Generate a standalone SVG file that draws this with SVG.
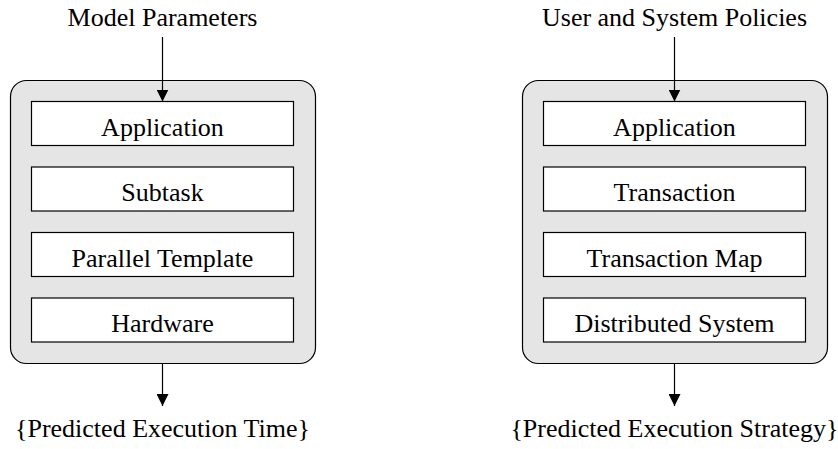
<svg xmlns="http://www.w3.org/2000/svg" width="838" height="449" viewBox="0 0 838 449">
  <style>
    .panel { fill: #e5e5e5; stroke: #000; stroke-width: 1.2; }
    .layer { fill: #fff; stroke: #000; stroke-width: 1.2; }
    .label { font-family: 'Liberation Serif', 'DejaVu Serif', serif; font-size: 26px; fill: #000; text-anchor: middle; }
    .edge { stroke: #000; stroke-width: 1.2; fill: none; marker-end: url(#arrow); }
  </style>
  <defs>
    <marker id="arrow" viewBox="0 0 12 12" refX="12" refY="6" markerWidth="12" markerHeight="12" markerUnits="userSpaceOnUse" orient="auto">
      <path d="M0,0 L12,6 L0,12 z" fill="#000"/>
    </marker>
  </defs>

  <rect width="838" height="449" fill="#fff"/>

  <!-- Left stack: performance prediction -->
  <g id="model-panel">
    <rect class="panel" x="10.5" y="80.5" width="305" height="283" rx="16"/>
  </g>
  <g id="left-application">
    <rect class="layer" x="31.5" y="101.5" width="262" height="44"/>
    <text class="label" x="162.5" y="135.5">Application</text>
  </g>
  <g id="left-subtask">
    <rect class="layer" x="31.5" y="167" width="262" height="44"/>
    <text class="label" x="162.5" y="201">Subtask</text>
  </g>
  <g id="left-parallel-template">
    <rect class="layer" x="31.5" y="232.5" width="262" height="44"/>
    <text class="label" x="162.5" y="266.5">Parallel Template</text>
  </g>
  <g id="left-hardware">
    <rect class="layer" x="31.5" y="298" width="262" height="44"/>
    <text class="label" x="162.5" y="332">Hardware</text>
  </g>
  <g id="left-input">
    <text class="label" x="162.5" y="26">Model Parameters</text>
  </g>
  <g id="left-output">
    <text class="label" x="162.5" y="437">{Predicted Execution Time}</text>
  </g>

  <!-- Right stack: execution strategy prediction -->
  <g id="policy-panel">
    <rect class="panel" x="522.5" y="80.5" width="305" height="283" rx="16"/>
  </g>
  <g id="right-application">
    <rect class="layer" x="543.5" y="101.5" width="262" height="44"/>
    <text class="label" x="674.5" y="135.5">Application</text>
  </g>
  <g id="right-transaction">
    <rect class="layer" x="543.5" y="167" width="262" height="44"/>
    <text class="label" x="674.5" y="201">Transaction</text>
  </g>
  <g id="right-transaction-map">
    <rect class="layer" x="543.5" y="232.5" width="262" height="44"/>
    <text class="label" x="674.5" y="266.5">Transaction Map</text>
  </g>
  <g id="right-distributed-system">
    <rect class="layer" x="543.5" y="298" width="262" height="44"/>
    <text class="label" x="674.5" y="332">Distributed System</text>
  </g>
  <g id="right-input">
    <text class="label" x="674.5" y="26">User and System Policies</text>
  </g>
  <g id="right-output">
    <text class="label" x="674.5" y="437">{Predicted Execution Strategy}</text>
  </g>

  <!-- Connectors -->
  <g id="connectors">
    <line class="edge" x1="162.5" y1="37" x2="162.5" y2="101.5"/>
    <line class="edge" x1="162.5" y1="363.5" x2="162.5" y2="406"/>
    <line class="edge" x1="674.5" y1="37" x2="674.5" y2="101.5"/>
    <line class="edge" x1="674.5" y1="363.5" x2="674.5" y2="406"/>
  </g>
</svg>
